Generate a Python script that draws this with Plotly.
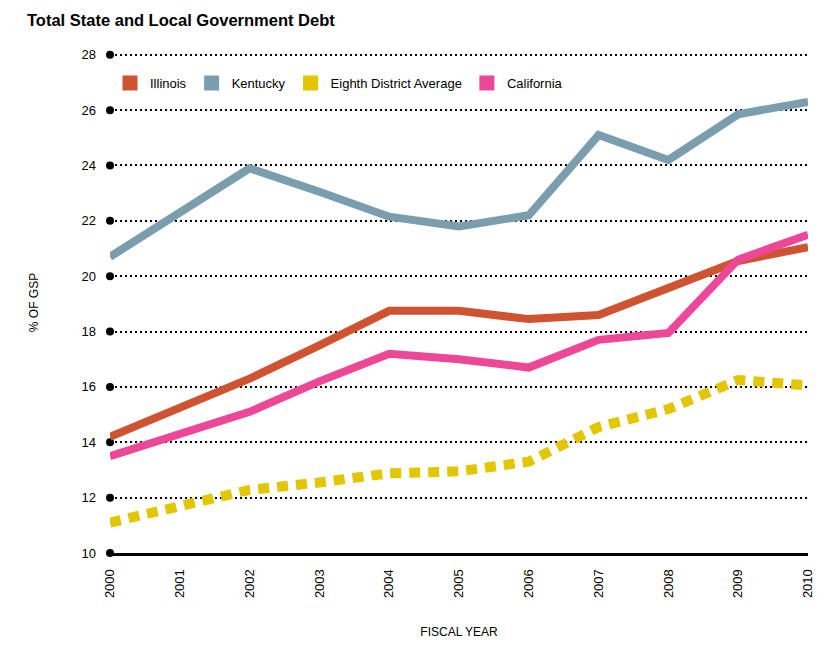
import plotly.graph_objects as go

years = [2000, 2001, 2002, 2003, 2004, 2005, 2006, 2007, 2008, 2009, 2010]
illinois = [14.2, 15.25, 16.3, 17.5, 18.75, 18.75, 18.45, 18.6, 19.6, 20.55, 21.05]
kentucky = [20.7, 22.3, 23.9, 23.05, 22.15, 21.8, 22.2, 25.1, 24.2, 25.85, 26.3]
eighth = [11.1, 11.65, 12.28, 12.55, 12.88, 12.95, 13.3, 14.55, 15.2, 16.25, 16.05]
california = [13.5, 14.3, 15.1, 16.2, 17.2, 17.0, 16.7, 17.7, 17.95, 20.6, 21.5]

y_ticks = [10, 12, 14, 16, 18, 20, 22, 24, 26, 28]
x_ticks = years

names = ["Illinois", "Kentucky", "Eighth District Average", "California"]
colors = {"Illinois": "#CF5330", "Kentucky": "#7A9EAD",
          "Eighth District Average": "#E3C600", "California": "#EE4798"}

FONT = "Liberation Sans"

fig = go.Figure()

# grid tick dots at left edge
fig.add_trace(go.Scatter(x=[years[0]] * len(y_ticks), y=y_ticks, mode="markers",
                         marker=dict(color="black", size=8), showlegend=False,
                         cliponaxis=False, hoverinfo="skip"))

fig.add_trace(go.Scatter(x=years, y=eighth, mode="lines", name="Eighth District Average",
                         line=dict(color=colors["Eighth District Average"], width=10, dash="11px,8px"),
                         showlegend=False, cliponaxis=False))
fig.add_trace(go.Scatter(x=years, y=kentucky, mode="lines", name="Kentucky",
                         line=dict(color=colors["Kentucky"], width=8),
                         showlegend=False, cliponaxis=False))
fig.add_trace(go.Scatter(x=years, y=illinois, mode="lines", name="Illinois",
                         line=dict(color=colors["Illinois"], width=8),
                         showlegend=False, cliponaxis=False))
fig.add_trace(go.Scatter(x=years, y=california, mode="lines", name="California",
                         line=dict(color=colors["California"], width=8),
                         showlegend=False, cliponaxis=False))

# legend entries (square swatches)
for n in names:
    fig.add_trace(go.Scatter(x=[None], y=[None], mode="markers", name=n,
                             marker=dict(symbol="square", size=15, color=colors[n]),
                             showlegend=True))

fig.update_layout(
    width=840, height=647,
    paper_bgcolor="white", plot_bgcolor="white",
    margin=dict(l=102, r=40, t=44, b=102),
    font=dict(family=FONT, size=13, color="black"),
    title=dict(text="<b>Total State and Local Government Debt</b>", x=19 / 840, xanchor="left",
               y=1 - 12 / 647, yanchor="middle", font=dict(family=FONT, size=16.5, color="black")),
    legend=dict(orientation="h", x=0, y=0.968, xanchor="left", yanchor="top",
                bgcolor="rgba(0,0,0,0)", font=dict(size=13), itemwidth=30,
                tracegroupgap=0),
    showlegend=True,
)

fig.update_xaxes(range=[2000, 2010], tickvals=x_ticks, ticktext=[str(v) for v in x_ticks],
                 tickangle=-90, showgrid=False, showline=True, linecolor="black", linewidth=3,
                 ticks="", ticklabelstandoff=8,
                 title=dict(text="FISCAL YEAR", font=dict(size=12), standoff=31))
fig.update_yaxes(range=[10, 28.1], tickvals=y_ticks, showgrid=True, gridcolor="black",
                 gridwidth=2, griddash="2px,3px", zeroline=False, ticks="",
                 ticklabelstandoff=13,
                 title=dict(text="% OF GSP", font=dict(size=12), standoff=40))

fig.write_html("out.html")
